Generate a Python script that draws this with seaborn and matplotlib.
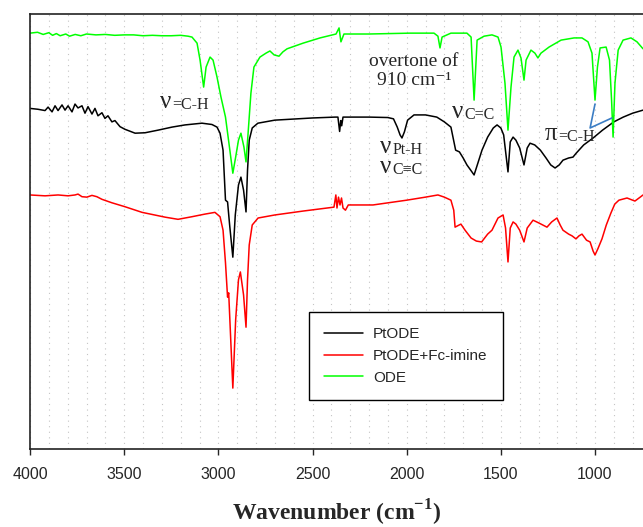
import numpy as np
import pandas as pd
import seaborn as sns
import matplotlib.pyplot as plt
from matplotlib.lines import Line2D

# PtODE (black) - wavenumber / transmittance (a.u., offset)
pt_wn = [4000, 3958, 3920, 3904, 3883, 3867, 3851, 3830, 3814, 3798,
         3777, 3761, 3745, 3724, 3708, 3692, 3671, 3655, 3639, 3618,
         3602, 3586, 3565, 3549, 3522, 3496, 3442, 3389, 3320, 3246,
         3177, 3087, 3034, 3007, 2991, 2975, 2962, 2951, 2940, 2923,
         2910, 2893, 2880, 2866, 2853, 2845, 2836, 2820, 2790, 2700,
         2500, 2380, 2365, 2356, 2350, 2345, 2338, 2200, 2100, 2070,
         2050, 2035, 2025, 2012, 1995, 1961, 1900, 1840, 1800, 1765,
         1740, 1720, 1700, 1680, 1660, 1642, 1625, 1600, 1570, 1540,
         1520, 1500, 1485, 1462, 1450, 1435, 1420, 1400, 1377, 1360,
         1345, 1320, 1290, 1260, 1235, 1212, 1190, 1170, 1140, 1117,
         1100, 1060, 1010, 960, 900, 850, 800, 745]
pt_T = [78.3, 78.1, 77.8, 78.6, 77.5, 78.9, 77.8, 79.1, 77.9, 78.9,
        77.5, 79.3, 78.4, 78.9, 77.2, 78.7, 77.0, 78.3, 76.6, 77.3,
        76.0, 76.6, 75.2, 75.5, 74.1, 73.5, 72.6, 72.7, 73.3, 74.0,
        74.5, 74.9, 74.6, 74.0, 72.6, 68.7, 57.2, 56.8, 51.5, 44.1,
        53.8, 60.7, 62.5, 59.5, 54.5, 64.1, 71.0, 73.8, 74.9, 75.6,
        76.1, 76.3, 76.3, 73.0, 75.5, 74.3, 76.3, 76.3, 76.2, 75.9,
        74.0, 72.2, 71.5, 72.9, 75.6, 76.8, 76.8, 76.3, 75.2, 74.0,
        68.7, 68.3, 66.9, 65.3, 64.1, 63.0, 65.3, 68.7, 71.7, 73.8,
        74.5, 73.8, 72.2, 63.7, 70.6, 71.7, 71.0, 69.2, 65.3, 69.2,
        70.3, 69.9, 68.7, 66.9, 65.3, 64.6, 65.3, 66.4, 66.9, 67.1,
        68.0, 69.9, 71.5, 73.3, 75.2, 76.3, 77.2, 77.9]

# PtODE+Fc-imine (red)
fc_wn = [4000, 3920, 3851, 3798, 3761, 3745, 3724, 3698, 3671, 3645,
         3618, 3565, 3496, 3405, 3283, 3214, 3140, 3071, 3018, 2991,
         2975, 2962, 2951, 2945, 2923, 2908, 2893, 2883, 2866, 2853,
         2845, 2836, 2820, 2789, 2700, 2550, 2386, 2376, 2370, 2362,
         2354, 2346, 2338, 2325, 2310, 2280, 2179, 2000, 1900, 1834,
         1800, 1765, 1750, 1743, 1730, 1712, 1690, 1658, 1630, 1602,
         1570, 1547, 1515, 1488, 1475, 1462, 1450, 1435, 1420, 1400,
         1377, 1360, 1329, 1300, 1255, 1230, 1202, 1185, 1170, 1140,
         1122, 1101, 1085, 1069, 1045, 1026, 1010, 1000, 985, 963,
         940, 915, 895, 873, 830, 788, 760, 745]
fc_T = [58.4, 58.2, 58.4, 58.2, 58.4, 58.6, 58.0, 57.9, 58.3, 58.0,
        57.4, 56.6, 55.7, 54.4, 53.3, 52.8, 53.4, 54.0, 54.4, 53.4,
        50.3, 42.8, 34.9, 35.9, 14.0, 29.7, 38.9, 40.7, 35.4, 28.0,
        38.9, 46.9, 51.5, 53.1, 53.8, 54.7, 55.6, 58.4, 55.4, 57.9,
        56.1, 57.7, 55.4, 54.9, 56.1, 56.1, 56.1, 57.2, 57.9, 58.4,
        57.9, 57.2, 54.9, 51.0, 51.3, 51.7, 50.3, 48.5, 47.8, 47.6,
        49.4, 50.3, 53.1, 53.8, 50.8, 43.0, 50.8, 52.2, 51.7, 50.3,
        47.6, 50.8, 52.6, 52.0, 51.0, 52.2, 53.1, 51.5, 50.3, 49.4,
        49.0, 48.3, 49.0, 49.4, 48.0, 47.6, 45.5, 44.6, 46.0, 48.3,
        51.5, 54.3, 56.3, 57.2, 57.7, 57.0, 57.9, 58.4]

# ODE (green)
ode_wn = [4000, 3960, 3930, 3900, 3880, 3860, 3840, 3810, 3790, 3760,
          3730, 3700, 3650, 3600, 3550, 3500, 3450, 3400, 3350, 3300,
          3250, 3200, 3161, 3140, 3113, 3097, 3078, 3065, 3044, 3028,
          3007, 2986, 2962, 2941, 2923, 2908, 2893, 2880, 2864, 2853,
          2842, 2827, 2811, 2779, 2747, 2726, 2704, 2678, 2657, 2635,
          2550, 2460, 2375, 2359, 2349, 2333, 2200, 1982, 1855, 1834,
          1823, 1812, 1765, 1680, 1658, 1642, 1626, 1589, 1547, 1515,
          1499, 1478, 1462, 1446, 1430, 1409, 1393, 1377, 1366, 1340,
          1319, 1303, 1287, 1244, 1180, 1111, 1069, 1037, 1016, 1000,
          987, 973, 941, 923, 912, 904, 894, 877, 851, 809,
          777, 745]
ode_T = [95.6, 95.8, 95.3, 95.7, 95.1, 95.5, 95.0, 95.4, 94.9, 95.3,
         95.0, 95.4, 95.2, 95.3, 95.1, 95.2, 95.2, 95.0, 95.1, 95.0,
         95.0, 95.1, 94.9, 94.7, 93.3, 89.4, 83.2, 87.8, 90.1, 89.4,
         85.5, 80.9, 76.3, 69.4, 63.4, 67.1, 71.0, 72.6, 69.4, 66.0,
         72.6, 81.8, 87.8, 90.1, 91.0, 91.5, 90.6, 90.3, 91.3, 92.0,
         93.3, 94.5, 95.4, 96.8, 93.6, 95.4, 95.4, 95.6, 95.6, 94.9,
         92.2, 94.7, 95.6, 95.6, 94.7, 80.2, 94.0, 94.9, 95.2, 94.7,
         92.4, 84.1, 73.3, 83.2, 90.1, 91.7, 89.9, 84.8, 89.4, 91.7,
         91.0, 89.9, 91.0, 92.4, 94.0, 94.5, 94.5, 93.6, 91.0, 80.2,
         87.8, 92.2, 92.4, 89.4, 80.2, 71.7, 84.1, 91.7, 94.0, 94.5,
         93.6, 92.0]

xticks = [4000, 3500, 3000, 2500, 2000, 1500, 1000]
legend_names = ['PtODE', 'PtODE+Fc-imine', 'ODE']
colors = {'PtODE': 'black', 'PtODE+Fc-imine': '#ff0000', 'ODE': '#00ff00'}

# leader lines for the pi(=C-H) label, pointing at 995 and 910 cm-1
lead_wn = [1000, 1026, 910]
lead_T = [79.3, 73.8, 76.1]

sns.set_style('white')
plt.rcParams['font.family'] = ['Liberation Sans', 'DejaVu Sans']
plt.rcParams['mathtext.fontset'] = 'custom'
plt.rcParams['mathtext.rm'] = 'Liberation Serif'
plt.rcParams['mathtext.bf'] = 'Liberation Serif:bold'

fig = plt.figure(figsize=(6.43, 5.27), dpi=100)
ax = fig.add_axes([30 / 643, 78 / 527, 621.5 / 643, 435 / 527])

# draw order: red, black, green on top
for name, wn, tr in [('PtODE+Fc-imine', fc_wn, fc_T),
                     ('PtODE', pt_wn, pt_T),
                     ('ODE', ode_wn, ode_T)]:
    df = pd.DataFrame({'wn': wn, 'T': tr})
    sns.lineplot(data=df, x='wn', y='T', color=colors[name], lw=1.1,
                 sort=False, estimator=None, ax=ax)

ax.plot(lead_wn, lead_T, color='#3b7dc4', lw=1.2)

ax.set_xlim(4000, 700)
ax.set_ylim(0, 100)
ax.set_xticks(xticks)
ax.set_xticks(np.arange(3900, 700, -100), minor=True)
ax.set_yticks([])
ax.grid(which='both', axis='x', ls=(0, (1, 4)), color='#c4c4c4', lw=0.8)
ax.tick_params(axis='x', which='major', bottom=True, direction='out',
               length=4.5, width=1, pad=8.5, labelsize=11.5)
ax.tick_params(axis='x', which='minor', length=0)
for s in ['left', 'top', 'bottom']:
    ax.spines[s].set_color('#222222')
    ax.spines[s].set_linewidth(1.2)
ax.spines['right'].set_visible(False)

ax.set_ylabel('')
ax.set_xlabel(r'Wavenumber (cm$^{\mathbf{-1}}$)', fontsize=17,
              fontweight='bold', family='Liberation Serif')
ax.xaxis.set_label_coords(0.494, -0.112)


def band_label(x, y, sym, sub, size=18, subsize=11.5):
    t = ax.text(x, y, sym, fontsize=size, family='Liberation Serif',
                va='baseline', ha='left')
    ax.annotate(sub, xy=(1, 0), xycoords=t, xytext=(0.5, 0),
                textcoords='offset points', fontsize=subsize,
                family='Liberation Serif', va='bottom', ha='left')


band_label(3310, 78.4, 'ν', '=C-H')
band_label(2141, 68.0, 'ν', 'Pt-H')
band_label(2141, 63.4, 'ν', 'C≡C')
band_label(1759, 76.1, 'ν', 'C=C')
band_label(1265, 71.0, 'π', '=C-H')
ax.text(1961, 86.9, 'overtone of\n910 cm⁻¹', fontsize=14, ha='center',
        va='center', multialignment='center',
        family=['Liberation Serif', 'DejaVu Serif'])

handles = [Line2D([], [], color=colors[n], lw=1.1) for n in legend_names]
leg = ax.legend(handles, legend_names, loc='lower left',
                bbox_to_anchor=(0.449, 0.1126), frameon=True, fancybox=False,
                edgecolor='black', framealpha=1, fontsize=11,
                handlelength=2.5, handletextpad=0.7, labelspacing=0.5,
                borderpad=1.0, borderaxespad=0)
leg.get_frame().set_linewidth(1.0)

fig.savefig('out.png', dpi=100)
